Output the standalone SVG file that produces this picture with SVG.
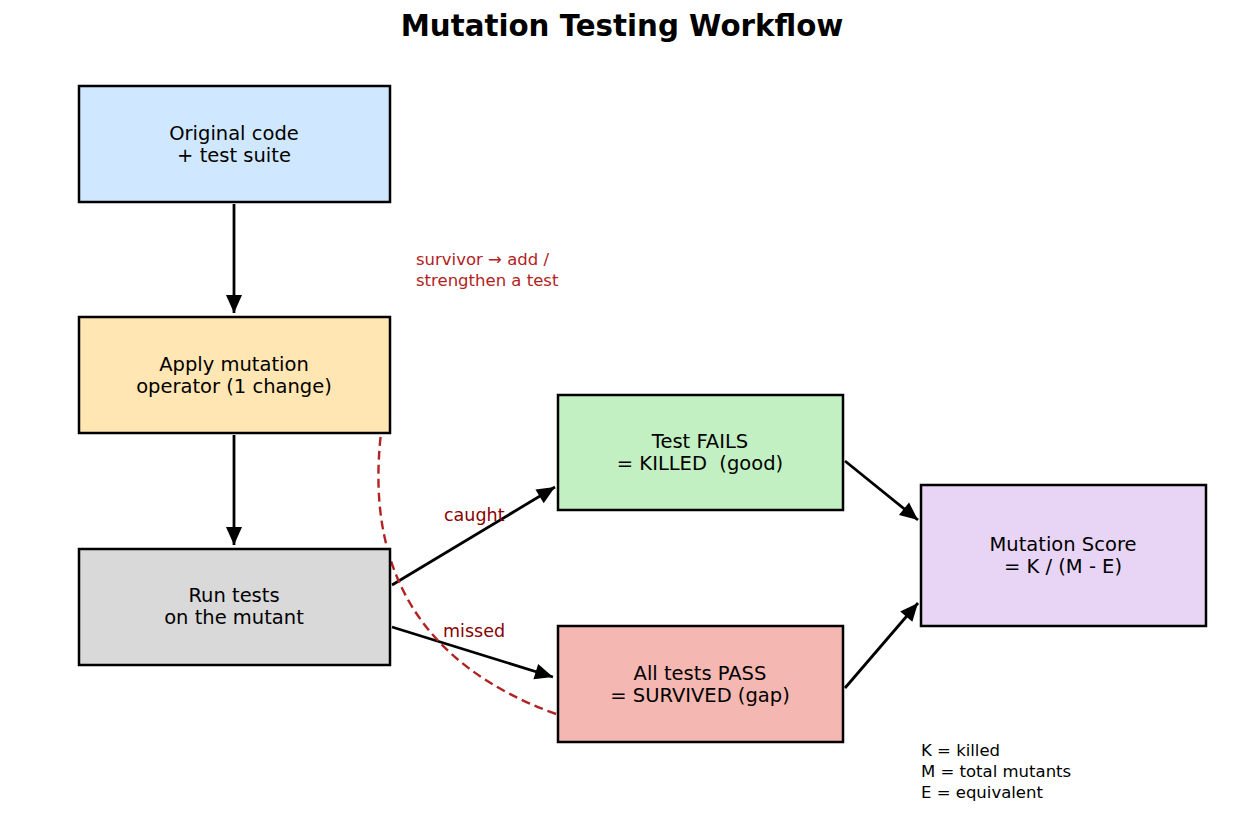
<svg xmlns="http://www.w3.org/2000/svg" width="1245" height="820" viewBox="0 0 1245 820">
<style>
.box{stroke:#000;stroke-width:2.5}
.t{font-family:"DejaVu Sans",sans-serif;font-size:19.5px;fill:#000;text-anchor:middle;white-space:pre}
.lbl{font-family:"DejaVu Sans",sans-serif;font-size:17.5px;fill:#8b0000}
.note{font-family:"DejaVu Sans",sans-serif;font-size:16.5px;fill:#b22222}
.leg{font-family:"DejaVu Sans",sans-serif;font-size:16.5px;fill:#000}
.ar{stroke:#000;stroke-width:2.8;fill:none;marker-end:url(#ah)}
</style>
<defs>
<marker id="ah" markerUnits="userSpaceOnUse" markerWidth="22" markerHeight="22" viewBox="0 0 22 22" refX="20" refY="11" orient="auto">
<path d="M2,3 L20,11 L2,19 Z" fill="#000"/>
</marker>
</defs>
<rect width="1245" height="820" fill="#fff"/>
<text x="622" y="36" font-family="DejaVu Sans,sans-serif" font-size="29.3" font-weight="bold" text-anchor="middle">Mutation Testing Workflow</text>
<g id="connectors">
<line class="ar" x1="234" y1="204" x2="234" y2="313"/>
<line class="ar" x1="234" y1="435" x2="234" y2="545"/>
<line class="ar" x1="392" y1="585" x2="555" y2="487"/>
<line class="ar" x1="392" y1="627" x2="553" y2="677"/>
<line class="ar" x1="845" y1="461" x2="918" y2="520"/>
<line class="ar" x1="845" y1="688" x2="918" y2="603"/>
<path d="M556,714 Q357,642 381,433" fill="none" stroke="#b22222" stroke-width="2.4" stroke-dasharray="9,5"/>
<text class="lbl" x="444" y="521">caught</text>
<text class="lbl" x="443" y="637">missed</text>
</g>
<g id="original">
<rect class="box" x="79" y="86" width="311" height="116" fill="#cfe8ff"/>
<text class="t" x="234" y="140">Original code</text>
<text class="t" x="234" y="162">+ test suite</text>
</g>
<g id="apply">
<rect class="box" x="79" y="317" width="311" height="116" fill="#ffe6b3"/>
<text class="t" x="234" y="371">Apply mutation</text>
<text class="t" x="234" y="393">operator (1 change)</text>
</g>
<g id="run">
<rect class="box" x="79" y="549" width="311" height="116" fill="#d9d9d9"/>
<text class="t" x="234" y="602">Run tests</text>
<text class="t" x="234" y="624">on the mutant</text>
</g>
<g id="killed">
<rect class="box" x="558" y="395" width="285" height="115" fill="#c2f0c2"/>
<text class="t" x="700" y="448">Test FAILS</text>
<text class="t" x="700" y="470">= KILLED  (good)</text>
</g>
<g id="survived">
<rect class="box" x="558" y="626" width="285" height="116" fill="#f5b7b1"/>
<text class="t" x="700" y="680">All tests PASS</text>
<text class="t" x="700" y="702">= SURVIVED (gap)</text>
</g>
<g id="score">
<rect class="box" x="921" y="485" width="285" height="141" fill="#e8d5f5"/>
<text class="t" x="1063" y="551">Mutation Score</text>
<text class="t" x="1063" y="573">= K / (M - E)</text>
</g>
<g id="note">
<text class="note" x="416" y="265">survivor → add /</text>
<text class="note" x="416" y="286">strengthen a test</text>
</g>
<g id="legend">
<text class="leg" x="921" y="756">K = killed</text>
<text class="leg" x="921" y="777">M = total mutants</text>
<text class="leg" x="921" y="798">E = equivalent</text>
</g>
</svg>
